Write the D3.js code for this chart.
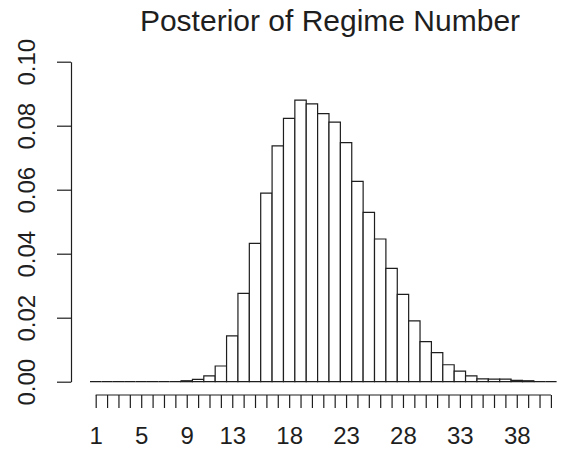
<!DOCTYPE html>
<html>
<head>
<meta charset="utf-8">
<script src="https://cdn.jsdelivr.net/npm/d3@7"></script>
<style>
  html, body { margin: 0; padding: 0; background: #fff; }
  svg { display: block; font-family: "Liberation Sans", Arial, Helvetica, sans-serif; }
</style>
</head>
<body>
<svg id="chart" width="562" height="449"></svg>
<script>
// Posterior probability of each regime count (1..41)
const regimes = d3.range(1, 42);
const probs = [
  0, 0, 0, 0, 0, 0, 0, 0,
  0.0003, 0.0007, 0.0018, 0.0049, 0.0143, 0.0276, 0.0432,
  0.0589, 0.0737, 0.0823, 0.0880, 0.0868, 0.0838, 0.0811,
  0.0747, 0.0626, 0.0529, 0.0446, 0.0354, 0.0273, 0.0190,
  0.0125, 0.0091, 0.0053, 0.0033, 0.0018, 0.0009, 0.0008,
  0.0008, 0.0004, 0.0003, 0, 0
];
const xLabels = [1, 5, 9, 13, 18, 23, 28, 33, 38];
const yTicks = [0, 0.02, 0.04, 0.06, 0.08, 0.10];
const title = "Posterior of Regime Number";

const ink = "#1e1e1e";
const svg = d3.select("#chart");

const x = d3.scaleLinear().domain([0, regimes.length]).range([90, 556.6]);
const y = d3.scaleLinear().domain([0, 0.1]).range([381.7, 61.7]);

// Bars: outlined, white fill; drawn as paths so empty bins still show their base
svg.append("g")
  .selectAll("path")
  .data(regimes)
  .join("path")
  .attr("d", (r, i) => {
    const p = d3.path();
    const x0 = x(r - 1), x1 = x(r), y0 = y(0), y1 = y(probs[i]);
    p.moveTo(x0, y0); p.lineTo(x0, y1); p.lineTo(x1, y1); p.lineTo(x1, y0); p.closePath();
    return p.toString();
  })
  .attr("fill", "#fff")
  .attr("stroke", ink)
  .attr("stroke-width", 1.2);

// Y axis
const yAxis = svg.append("g")
  .attr("transform", `translate(71,0)`)
  .call(d3.axisLeft(y).tickValues(yTicks).tickFormat(d3.format(".2f")).tickSize(14).tickSizeOuter(0));
yAxis.select(".domain").attr("stroke", ink).attr("stroke-width", 1.2);
yAxis.selectAll(".tick line").attr("stroke", ink).attr("stroke-width", 1.2);
yAxis.selectAll(".tick text")
  .attr("x", null).attr("dy", null)
  .attr("transform", "translate(-36,0) rotate(-90)")
  .attr("text-anchor", "middle")
  .attr("fill", ink)
  .style("font-size", "24px")
  .style("font-family", "'Liberation Sans', Arial, sans-serif");

// X axis: a tick per regime, labels on a subset
const xAxis = svg.append("g")
  .attr("transform", `translate(0,395)`)
  .call(d3.axisBottom(x)
    .tickValues(regimes.map(r => r - 0.5))
    .tickFormat(v => xLabels.includes(v + 0.5) ? String(v + 0.5) : "")
    .tickSize(13).tickSizeOuter(0));
xAxis.select(".domain")
  .attr("d", `M${x(0.5)},0H${x(regimes.length - 0.5)}`)
  .attr("stroke", ink).attr("stroke-width", 1.2);
xAxis.selectAll(".tick line").attr("stroke", ink).attr("stroke-width", 1.2);
xAxis.selectAll(".tick text")
  .attr("y", 49).attr("dy", null)
  .attr("fill", ink)
  .style("font-size", "24px")
  .style("font-family", "'Liberation Sans', Arial, sans-serif");

// Title
svg.append("text")
  .attr("x", 330).attr("y", 30.5)
  .attr("text-anchor", "middle")
  .attr("fill", ink)
  .style("font-size", "30px")
  .text(title);
</script>
</body>
</html>
